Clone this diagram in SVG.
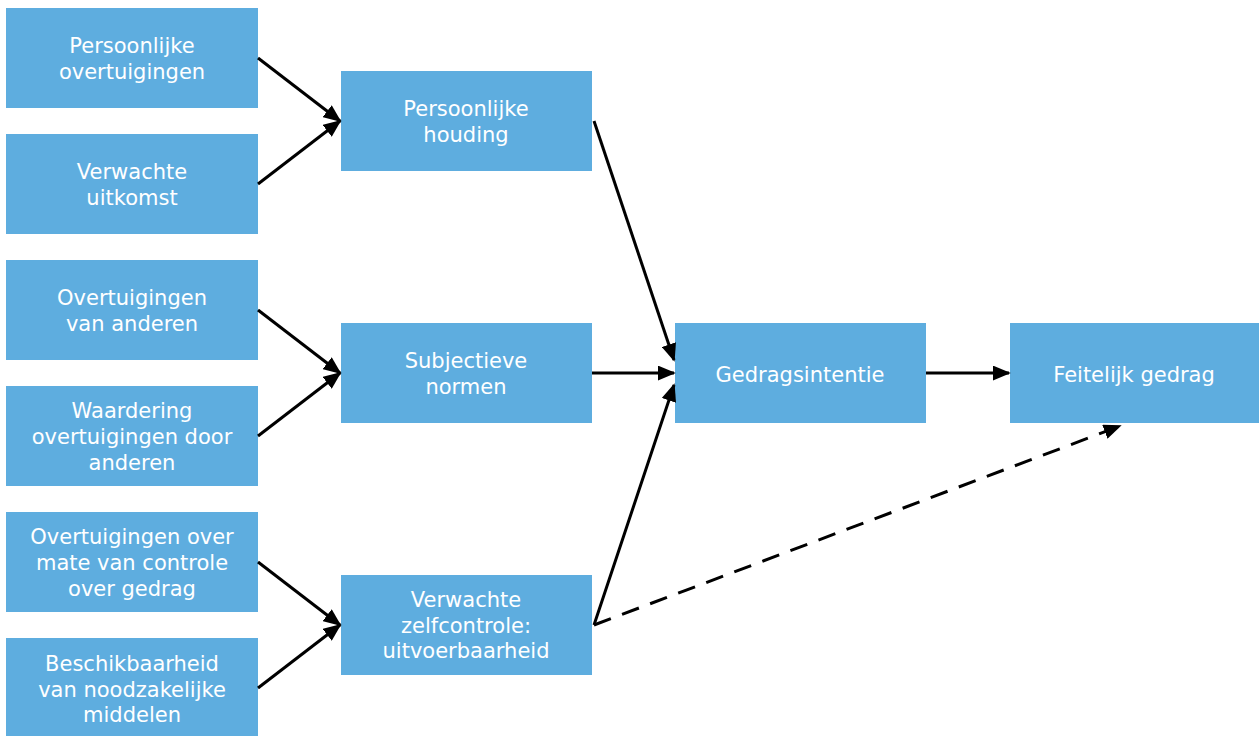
<svg xmlns="http://www.w3.org/2000/svg" width="1259" height="736" viewBox="0 0 1259 736">
<style>
.box{fill:#5eaddf;}
.t{font-family:"DejaVu Sans",Verdana,sans-serif;font-size:21px;fill:#ffffff;text-anchor:middle;}
.c{stroke:#000;stroke-width:3;fill:none;}
.d{stroke-dasharray:18,12;}
</style>
<defs>
<marker id="ah" viewBox="0 0 10 10" refX="9" refY="5" markerWidth="6" markerHeight="5" markerUnits="strokeWidth" orient="auto" preserveAspectRatio="none">
<path d="M0,0 L10,5 L0,10 z" fill="#000"/>
</marker>
</defs>
<rect width="1259" height="736" fill="#fff"/>
<g id="n1"><rect class="box" x="6" y="8" width="252" height="100"/><text class="t" x="132" y="53">Persoonlijke</text><text class="t" x="132" y="79">overtuigingen</text></g>
<g id="n2"><rect class="box" x="6" y="134" width="252" height="100"/><text class="t" x="132" y="179">Verwachte</text><text class="t" x="132" y="205">uitkomst</text></g>
<g id="n3"><rect class="box" x="6" y="260" width="252" height="100"/><text class="t" x="132" y="305">Overtuigingen</text><text class="t" x="132" y="331">van anderen</text></g>
<g id="n4"><rect class="box" x="6" y="386" width="252" height="100"/><text class="t" x="132" y="418">Waardering</text><text class="t" x="132" y="444">overtuigingen door</text><text class="t" x="132" y="470">anderen</text></g>
<g id="n5"><rect class="box" x="6" y="512" width="252" height="100"/><text class="t" x="132" y="544">Overtuigingen over</text><text class="t" x="132" y="570">mate van controle</text><text class="t" x="132" y="596">over gedrag</text></g>
<g id="n6"><rect class="box" x="6" y="638" width="252" height="100"/><text class="t" x="132" y="671">Beschikbaarheid</text><text class="t" x="132" y="697">van noodzakelijke</text><text class="t" x="132" y="722">middelen</text></g>
<g id="m1"><rect class="box" x="341" y="71" width="251" height="100"/><text class="t" x="466" y="116">Persoonlijke</text><text class="t" x="466" y="142">houding</text></g>
<g id="m2"><rect class="box" x="341" y="323" width="251" height="100"/><text class="t" x="466" y="368">Subjectieve</text><text class="t" x="466" y="394">normen</text></g>
<g id="m3"><rect class="box" x="341" y="575" width="251" height="100"/><text class="t" x="466" y="607">Verwachte</text><text class="t" x="466" y="633">zelfcontrole:</text><text class="t" x="466" y="658">uitvoerbaarheid</text></g>
<g id="g"><rect class="box" x="675" y="323" width="251" height="100"/><text class="t" x="800" y="382">Gedragsintentie</text></g>
<g id="f"><rect class="box" x="1010" y="323" width="249" height="100"/><text class="t" x="1134" y="382">Feitelijk gedrag</text></g>
<g id="connectors">
<line class="c" x1="258" y1="58" x2="340" y2="121" marker-end="url(#ah)"/>
<line class="c" x1="258" y1="184" x2="340" y2="121" marker-end="url(#ah)"/>
<line class="c" x1="258" y1="310" x2="340" y2="373" marker-end="url(#ah)"/>
<line class="c" x1="258" y1="436" x2="340" y2="373" marker-end="url(#ah)"/>
<line class="c" x1="258" y1="562" x2="340" y2="625" marker-end="url(#ah)"/>
<line class="c" x1="258" y1="688" x2="340" y2="625" marker-end="url(#ah)"/>
<line class="c" x1="594" y1="121" x2="674" y2="360" marker-end="url(#ah)"/>
<line class="c" x1="592" y1="373" x2="674" y2="373" marker-end="url(#ah)"/>
<line class="c" x1="594" y1="625" x2="674" y2="385" marker-end="url(#ah)"/>
<line class="c" x1="926" y1="373" x2="1009" y2="373" marker-end="url(#ah)"/>
<line class="c d" x1="594" y1="625" x2="1120" y2="426" marker-end="url(#ah)"/>
</g>
</svg>
